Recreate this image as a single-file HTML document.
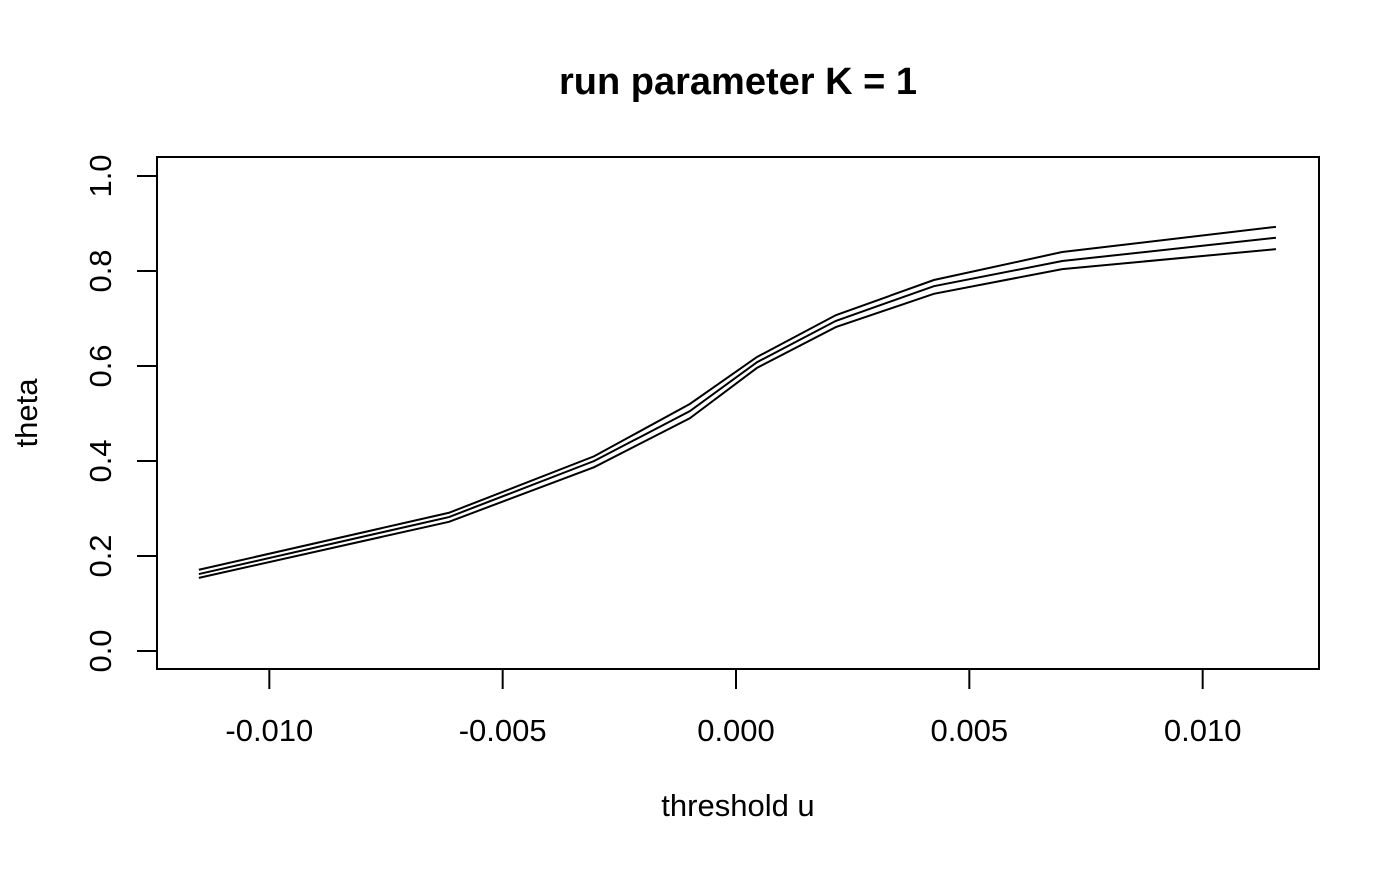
<!DOCTYPE html>
<html><head><meta charset="utf-8"><style>
body{margin:0;background:#fff;}
svg text{font-family:"Liberation Sans",Arial,sans-serif;fill:#000;}
</style></head><body>
<svg id="chart" width="1400" height="866" viewBox="0 0 1400 866" xmlns="http://www.w3.org/2000/svg">
<text x="738" y="94" font-size="38" font-weight="bold" text-anchor="middle">run parameter K = 1</text>
<rect x="157" y="157" width="1162" height="512" fill="none" stroke="#000" stroke-width="2"/>
<g id="xaxis"></g>
<g id="yaxis"></g>
<g id="lines"></g>
<text x="738" y="816" font-size="31" text-anchor="middle">threshold u</text>
<text transform="translate(37,413) rotate(-90)" font-size="31" text-anchor="middle">theta</text>
</svg>
<script>
const uValues=[-0.01151,-0.00615,-0.00304,-0.00099,0.00045,0.00214,0.00424,0.00699,0.01157];
const upperSeries=[0.171,0.291,0.410,0.520,0.619,0.707,0.781,0.840,0.893];
const middleSeries=[0.162,0.282,0.400,0.505,0.608,0.695,0.768,0.821,0.870];
const lowerSeries=[0.154,0.272,0.387,0.490,0.596,0.682,0.752,0.804,0.846];
const xTicks=[-0.010,-0.005,0.000,0.005,0.010];
const xTickLabels=["-0.010","-0.005","0.000","0.005","0.010"];
const yTicks=[0,0.2,0.4,0.6,0.8,1.0];
const yTickLabels=["0.0","0.2","0.4","0.6","0.8","1.0"];
const NS="http://www.w3.org/2000/svg";
function xs(u){return 736+u*46667;}
function ys(v){return 651-v*475;}
const xa=document.getElementById('xaxis');
xTicks.forEach((t,i)=>{
 const l=document.createElementNS(NS,'line');
 l.setAttribute('x1',xs(t));l.setAttribute('x2',xs(t));l.setAttribute('y1',669);l.setAttribute('y2',689);
 l.setAttribute('stroke','#000');l.setAttribute('stroke-width','2');
 
 
 xa.appendChild(l);
 const tx=document.createElementNS(NS,'text');
 tx.setAttribute('x',xs(t));tx.setAttribute('y',741);tx.setAttribute('font-size','31');tx.setAttribute('text-anchor','middle');
 tx.textContent=xTickLabels[i];
 
 
 xa.appendChild(tx);
});
const ya=document.getElementById('yaxis');
yTicks.forEach((t,i)=>{
 const l=document.createElementNS(NS,'line');
 l.setAttribute('x1',137);l.setAttribute('x2',157);l.setAttribute('y1',ys(t));l.setAttribute('y2',ys(t));
 l.setAttribute('stroke','#000');l.setAttribute('stroke-width','2');
 
 
 ya.appendChild(l);
 const tx=document.createElementNS(NS,'text');
 tx.setAttribute('transform','translate(111,'+ys(t)+') rotate(-90)');
 tx.setAttribute('font-size','31');tx.setAttribute('text-anchor','middle');
 tx.textContent=yTickLabels[i];
 
 
 ya.appendChild(tx);
});
const lg=document.getElementById('lines');
[[upperSeries,'upper-bound-line'],[middleSeries,'estimate-line'],[lowerSeries,'lower-bound-line']].forEach(([s,n])=>{
 const p=document.createElementNS(NS,'polyline');
 p.setAttribute('points',s.map((v,i)=>xs(uValues[i])+','+ys(v)).join(' '));
 p.setAttribute('fill','none');p.setAttribute('stroke','#000');p.setAttribute('stroke-width','2');
 
 
 lg.appendChild(p);
});
</script>
</body></html>
